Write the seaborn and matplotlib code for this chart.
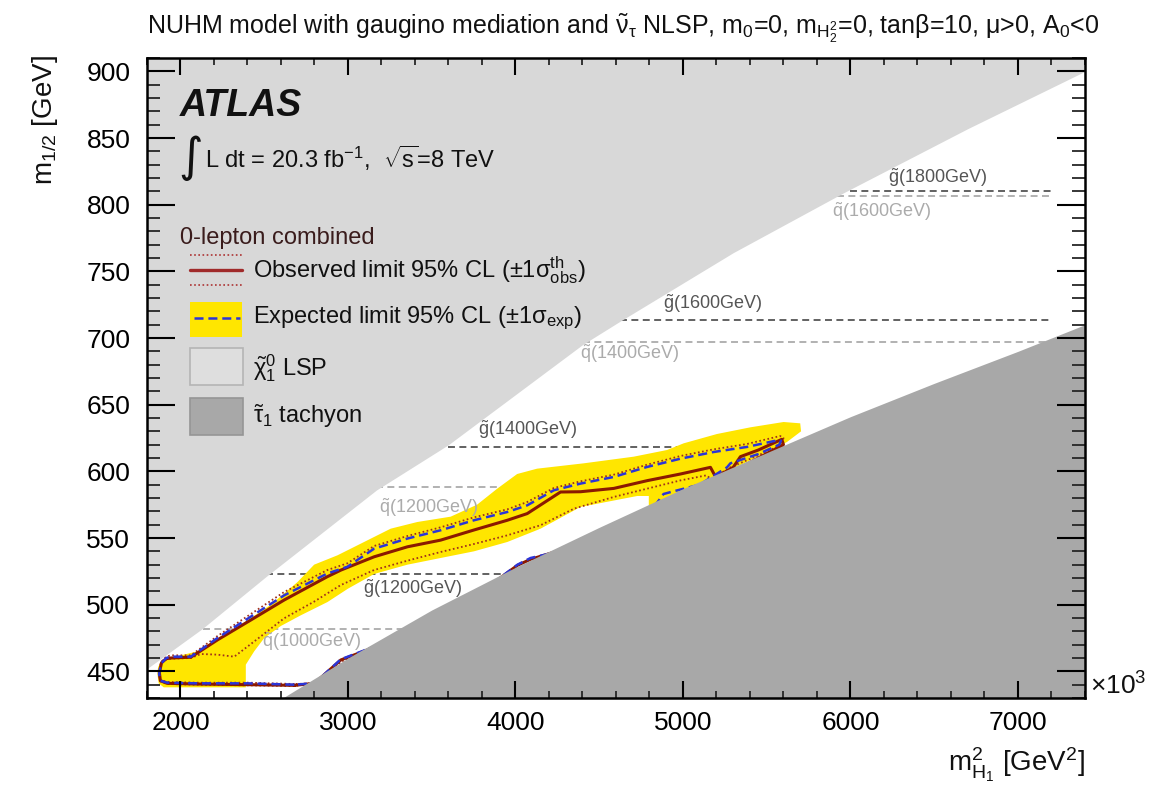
import matplotlib
matplotlib.use("Agg")
import matplotlib.pyplot as plt
from matplotlib.patches import Rectangle
from matplotlib.lines import Line2D
from matplotlib.ticker import MultipleLocator
import seaborn as sns

# ---------------- data (m_H1^2 in 10^3 GeV^2, m_1/2 in GeV) ----------------
# neutralino-LSP boundary (region above is excluded theoretically)
lsp_x = [1800, 2130, 2510, 3170, 3600, 4400, 4630, 5300, 5960, 6700, 7400]
lsp_y = [452, 482, 521, 586, 620, 695, 713, 764, 809, 857, 900]

# stau tachyon boundary (region below)
tach_x = [2610, 3000, 3500, 4000, 4500, 5000, 5500, 6000, 6500, 7000, 7400]
tach_y = [430, 460, 496, 528, 558, 587, 614, 641, 666, 690, 710]

# expected limit +-1 sigma band (closed polygon)
band_x = [1862, 1866, 1880, 1903, 2102, 2301, 2540, 2699, 2798, 2937, 3096, 3255,
          3414, 3613, 3771, 3891, 4010, 4129, 4407, 4706, 4905, 5004, 5203, 5402,
          5601, 5700, 5705, 5621, 5300, 5000, 4796, 4796, 4727, 4388, 4150, 3951,
          3752, 3553, 3355, 3156, 3000, 2878, 2718, 2599, 2500, 2440, 2390, 2390,
          2100, 1900, 1870, 1862]
band_y = [448, 453, 456.5, 459, 465, 480, 500, 517, 530, 537, 547, 557,
          562, 566, 575, 587, 598, 602, 606, 611, 616, 621, 628, 633,
          637, 636, 630, 622, 602, 585, 574, 581.5, 581.5, 573.3, 557, 547,
          540, 535, 530, 523, 512, 502, 492, 484, 475, 465, 455, 438,
          438, 438, 441, 448]

# expected limit contour
exp_x = [2680, 2400, 2100, 1920, 1880, 1872, 1885, 1915, 1943, 2062, 2221, 2420,
         2619, 2877, 2996, 3156, 3355, 3553, 3752, 3951, 4070, 4229, 4388, 4587,
         4786, 4985, 5183, 5382, 5561, 5585, 5575, 5450, 5283, 5263, 5100, 4943,
         4884, 4843, 4700, 4300, 4090, 4012, 3800, 3400, 3156, 2957, 2800, 2680]
exp_y = [440, 441, 441, 441.5, 443, 448, 456, 460, 461, 461, 475, 491,
         507, 523.4, 528.4, 542, 549.6, 555.8, 563.3, 569.5, 574.5, 585.8, 590.8, 595.8,
         603.3, 609.5, 614.5, 618.3, 623.2, 623, 620, 613, 606, 603, 590, 585,
         583, 576, 564, 541, 535, 530, 510, 484, 468.5, 459, 441, 440]

# observed limit contour
obs_x = [2680, 2400, 2100, 1920, 1880, 1874, 1887, 1915, 1943, 2062, 2221, 2420,
         2619, 2877, 2957, 3156, 3355, 3553, 3752, 3951, 4070, 4269, 4388, 4587,
         4786, 4985, 5164, 5194, 5230, 5300, 5343, 5450, 5590, 5600, 5450, 5300,
         5194, 5000, 4700, 4300, 4090, 4012, 3800, 3400, 3156, 2957, 2800, 2680]
obs_y = [439.5, 440, 440.5, 441, 443, 449, 456.5, 459.5, 460, 460.6, 473.6, 488.5,
         503.5, 521, 525.9, 535.9, 543.4, 548.4, 556, 563.3, 568.3, 584.5, 584.7, 587.2,
         593, 598, 603, 596, 598, 603, 611, 616, 624, 620, 610, 600,
         594, 584, 565, 542, 534, 529.5, 510, 484, 468, 458.5, 441, 439.5]

# observed limit +1 sigma (theory)
thu_x = [2680, 2400, 2100, 1920, 1878, 1870, 1884, 1914, 1943, 2062, 2221, 2420,
         2619, 2877, 2996, 3156, 3355, 3553, 3752, 3951, 4070, 4229, 4388, 4587,
         4786, 4985, 5183, 5382, 5580, 5600, 5590, 5450, 5283, 5100, 4700, 4300,
         3800, 3400, 2957, 2800, 2680]
thu_y = [440.5, 441.5, 441.5, 442, 443.5, 448.5, 457, 461, 462, 462, 476.5, 493,
         509.5, 526, 531, 544, 551.5, 558, 565.5, 571.5, 577, 587.5, 592.5, 597.5,
         605, 611.5, 616.5, 620.5, 626.5, 625, 620, 612, 603, 589, 565, 542,
         510, 484, 457, 441, 440.5]

# observed limit -1 sigma (theory)
thl_x = [2680, 2400, 2100, 1920, 1879, 1872, 1886, 1915, 1943, 2062, 2122, 2221,
         2321, 2440, 2619, 2798, 2957, 3156, 3355, 3553, 3752, 3951, 4150, 4349,
         4587, 4786, 4985, 5140, 5180, 5000, 4700, 4300, 3800, 3400, 2957, 2800, 2680]
thl_y = [439, 439.5, 440, 440.5, 442.5, 448.5, 456, 459, 459.5, 460, 463, 462.5,
         461, 472.4, 489.8, 502.3, 514.7, 526, 533, 539.5, 545.5, 552, 559.6, 572,
         580.8, 587, 593.2, 597, 593, 584, 565, 542, 510, 484, 455, 441, 439]

# iso-mass reference lines
gluino_mass = [1200, 1400, 1600, 1800]
gluino_y = [522.7, 618, 713.6, 810.5]
gluino_x0 = [2510, 3595, 4627, 5999]
squark_mass = [1000, 1200, 1400, 1600]
squark_y = [481.6, 588.3, 697, 806.3]
squark_x0 = [2132, 3166, 4406, 5921]
ref_x1 = 7200

x_ticks = [2000, 3000, 4000, 5000, 6000, 7000]
y_ticks = [450, 500, 550, 600, 650, 700, 750, 800, 850, 900]

# ---------------- style ----------------
sns.set_theme(style="ticks")
plt.rcParams["font.family"] = ["Liberation Sans", "DejaVu Sans"]
plt.rcParams.update({
    "mathtext.fontset": "custom",
    "mathtext.rm": "Liberation Sans",
    "mathtext.it": "Liberation Sans:italic",
    "mathtext.bf": "Liberation Sans:bold",
    "mathtext.sf": "Liberation Sans",
    "mathtext.default": "regular",
    "lines.scale_dashes": False,
    "text.color": "#111111",
})

C_LSP = "#d8d8d8"
C_TACH = "#a8a8a8"
C_BAND = "#ffe600"
C_EXP = "#2b35d8"
C_OBS = "#8b1a00"
C_TH = "#a0301a"
C_GL = "#555555"
C_SQ = "#ababab"

fig = plt.figure(figsize=(11.62, 8.0), dpi=100)
ax = fig.add_axes([0.1265, 0.1275, 0.8072, 0.80])
ax.set_xlim(1800, 7400)
ax.set_ylim(430, 910)
ax.set_facecolor("white")

# reference iso-mass lines
for m, y, x0 in zip(gluino_mass, gluino_y, gluino_x0):
    ax.plot([x0, ref_x1], [y, y], color=C_GL, lw=1.3, dashes=(5, 3.2), zorder=1)
for m, y, x0 in zip(squark_mass, squark_y, squark_x0):
    ax.plot([x0, ref_x1], [y, y], color=C_SQ, lw=1.3, dashes=(5, 3.2), zorder=1)

# expected band
ax.fill(band_x, band_y, color=C_BAND, lw=0, zorder=2)

# contours
sns.lineplot(x=thu_x, y=thu_y, sort=False, estimator=None, ax=ax, color=C_TH,
             lw=1.3, legend=False, zorder=3)
ax.lines[-1].set_dashes((1.2, 1.8))
sns.lineplot(x=thl_x, y=thl_y, sort=False, estimator=None, ax=ax, color=C_TH,
             lw=1.3, legend=False, zorder=3)
ax.lines[-1].set_dashes((1.2, 1.8))
sns.lineplot(x=obs_x, y=obs_y, sort=False, estimator=None, ax=ax, color=C_OBS,
             lw=2.2, legend=False, zorder=3.2)
sns.lineplot(x=exp_x, y=exp_y, sort=False, estimator=None, ax=ax, color=C_EXP,
             lw=1.8, legend=False, zorder=3.4)
ax.lines[-1].set_dashes((6.5, 3.5))

# theory-excluded regions
ax.fill_between(lsp_x, lsp_y, 1000, color=C_LSP, lw=0, zorder=4)
ax.fill_between(tach_x, 400, tach_y, color=C_TACH, lw=0, zorder=4)

# labels of the iso-mass lines
lab_g = {1800: (6224, 820), 1600: (4881, 726), 1400: (3776, 631), 1200: (3090, 512)}
lab_q = {1600: (5889, 795), 1400: (4385, 688), 1200: (3185, 573), 1000: (2487, 472)}
for m in gluino_mass:
    x, y = lab_g[m]
    ax.text(x, y, r"$\tilde{g}$(%dGeV)" % m, color=C_GL, fontsize=13,
            ha="left", va="center", zorder=5)
for m in squark_mass:
    x, y = lab_q[m]
    ax.text(x, y, r"$\tilde{q}$(%dGeV)" % m, color=C_SQ, fontsize=13,
            ha="left", va="center", zorder=5)

# ---------------- legend block ----------------
T = ax.transAxes
ax.text(0.0352, 0.925, "ATLAS", transform=T, fontsize=27, fontweight="bold",
        fontstyle="italic", ha="left", va="center", zorder=6)
ax.text(0.0330, 0.843, "\u222b", transform=T, fontsize=34, ha="left", va="center",
        family=["DejaVu Sans"], zorder=6)
ax.text(0.0618, 0.8438, r"L dt = 20.3 fb$^{-1}$,  $\sqrt{s}$=8 TeV", transform=T,
        fontsize=17, ha="left", va="center", zorder=6)
ax.text(0.0352, 0.71875, "0-lepton combined", transform=T, fontsize=17,
        color="#3a1c1c", ha="left", va="center", zorder=6)

lx0, lx1 = 0.0458, 0.1013
for fy in (0.6922, 0.6453):
    ax.add_line(Line2D([lx0, lx1], [fy, fy], transform=T, color="#b04040", lw=1.3,
                       dashes=(1.2, 1.8), zorder=6))
ax.add_line(Line2D([lx0, lx1], [0.6688, 0.6688], transform=T, color="#a02a2a",
                   lw=2.4, zorder=6))
ax.text(0.113, 0.6688, r"Observed limit 95% CL ($\pm$1$\sigma^{th}_{obs}$)",
        transform=T, fontsize=17, ha="left", va="center", zorder=6)

ax.add_patch(Rectangle((lx0, 0.5641), lx1 - lx0, 0.0547, transform=T,
                       color=C_BAND, lw=0, zorder=6))
ax.add_line(Line2D([lx0 + 0.004, lx1 - 0.002], [0.5938, 0.5938], transform=T,
                   color=C_EXP, lw=1.8, dashes=(6.5, 3.5), zorder=6.5))
ax.text(0.113, 0.5938, r"Expected limit 95% CL ($\pm$1$\sigma_{exp}$)",
        transform=T, fontsize=17, ha="left", va="center", zorder=6)

ax.add_patch(Rectangle((lx0, 0.4891), 0.0565, 0.0578, transform=T,
                       facecolor="#dedede", edgecolor="#b4b4b4", lw=1.2, zorder=6))
ax.text(0.113, 0.5156, r"$\tilde{\chi}^{0}_{1}$ LSP", transform=T, fontsize=17,
        ha="left", va="center", zorder=6)
ax.add_patch(Rectangle((lx0, 0.4109), 0.0565, 0.0578, transform=T,
                       facecolor=C_TACH, edgecolor="#959595", lw=1.2, zorder=6))
ax.text(0.113, 0.4406, r"$\tilde{\tau}_{1}$ tachyon", transform=T, fontsize=17,
        ha="left", va="center", zorder=6)

# ---------------- axes ----------------
ax.set_xticks(x_ticks)
ax.set_yticks(y_ticks)
ax.xaxis.set_minor_locator(MultipleLocator(200))
ax.yaxis.set_minor_locator(MultipleLocator(10))
ax.tick_params(axis="x", which="major", direction="in", length=12, width=1.5,
               top=True, bottom=True, labelsize=19, pad=9, colors="black")
ax.tick_params(axis="x", which="minor", direction="in", length=5, width=1.3,
               top=True, bottom=True)
ax.tick_params(axis="y", which="major", direction="in", length=20, width=1.5,
               left=True, right=True, labelsize=19, pad=12, colors="black")
ax.tick_params(axis="y", which="minor", direction="in", length=9.5, width=1.3,
               left=True, right=True)
ax.xaxis.set_zorder(11)
ax.yaxis.set_zorder(11)
for sp in ax.spines.values():
    sp.set_color("black")
    sp.set_linewidth(1.8)
    sp.set_zorder(12)
ax.set_xlabel("")
ax.set_ylabel("")

fig.text(0.1265, 0.965,
         r"NUHM model with gaugino mediation and $\mathrm{\tilde{\nu}_{\tau}}$ NLSP, "
         r"m$_{0}$=0, m$_{H_{2}^{2}}$=0, tan$\beta$=10, $\mu$>0, A$_{0}$<0",
         fontsize=18, ha="left", va="center")
fig.text(0.0387, 0.931, r"m$_{1/2}$ [GeV]", rotation=90, ha="center", va="top",
         fontsize=20)
fig.text(0.9337, 0.044, r"m$^{2}_{H_{1}}$ [GeV$^{2}$]", ha="right", va="center",
         fontsize=20)
fig.text(0.938, 0.1425, r"$\times$10$^{3}$", ha="left", va="center", fontsize=19)

fig.savefig("out.png", dpi=100, facecolor="white")
